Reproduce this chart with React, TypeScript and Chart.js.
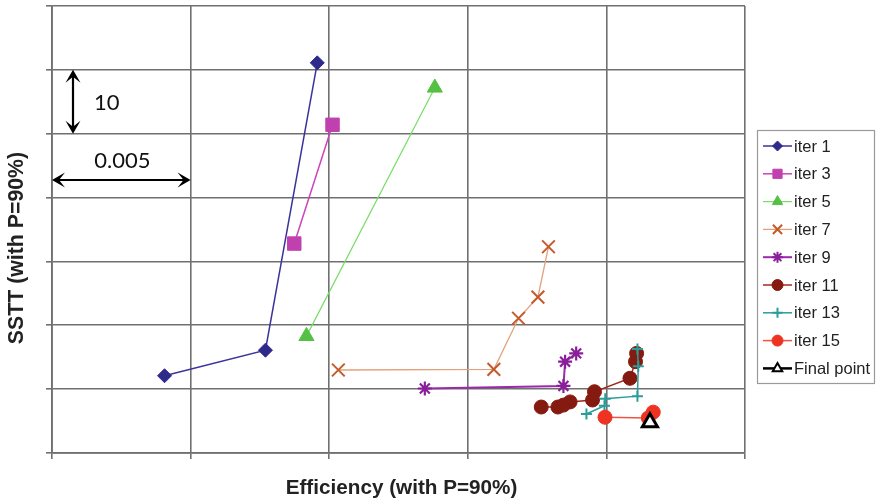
import React, { useEffect, useRef } from "react";
import { Chart, registerables } from "chart.js";
import { drawPoint } from "chart.js/helpers";

Chart.register(...registerables);

const xTitle = "Efficiency (with P=90%)";
const yTitle = "SSTT (with P=90%)";

const iter1X = [0.00406, 0.0077, 0.00957];
const iter1Y = [12.1, 16.1, 61.1];
const iter3X = [0.00874, 0.01012];
const iter3Y = [32.8, 51.4];
const iter5X = [0.00918, 0.01381];
const iter5Y = [18.3, 57.2];
const iter7X = [0.01033, 0.01594, 0.01683, 0.01753, 0.01791];
const iter7Y = [13.0, 13.1, 21.1, 24.4, 32.3];
const iter9X = [0.01345, 0.01845, 0.01851, 0.01891];
const iter9Y = [10.1, 10.5, 14.3, 15.6];
const iter11X = [0.01765, 0.01825, 0.01845, 0.01869, 0.0195, 0.01957, 0.02085, 0.02105, 0.02109];
const iter11Y = [7.2, 7.2, 7.5, 8.0, 8.3, 9.6, 11.7, 14.3, 15.6];
const iter13X = [0.01928, 0.01993, 0.01996, 0.02112, 0.02115, 0.02112];
const iter13Y = [6.1, 7.4, 8.5, 8.9, 13.6, 16.3];
const iter15X = [0.01995, 0.02151, 0.02169];
const iter15Y = [5.6, 5.5, 6.4];
const finalX = [0.02157];
const finalY = [4.8];

const seriesNames = ["iter 1", "iter 3", "iter 5", "iter 7", "iter 9", "iter 11", "iter 13", "iter 15", "Final point"];

const xMin = 0, xMax = 0.025, xStep = 0.005;
const yMin = 0, yMax = 70, yStep = 10;
const scaleXLabel = "0.005";
const scaleYLabel = "10";

const pts = (xs: number[], ys: number[]) => xs.map((x, i) => ({ x, y: ys[i] }));

type Style = {
  line: string; marker: string; fill: string; pointStyle: string; radius: number; lw: number; mbw: number; legR: number;
};
const styles: Style[] = [
  { line: "#3a3399", marker: "#2e2a8c", fill: "#2e2a8c", pointStyle: "rectRot", radius: 7, lw: 1.5, mbw: 1, legR: 5 },
  { line: "#cc44bb", marker: "#c040b0", fill: "#c040b0", pointStyle: "rect", radius: 9.5, lw: 1.5, mbw: 1, legR: 6.5 },
  { line: "#77dd66", marker: "#55c044", fill: "#55c044", pointStyle: "triangle", radius: 8.7, lw: 1.2, mbw: 1, legR: 6 },
  { line: "#e2a17c", marker: "#c45a2a", fill: "#c45a2a", pointStyle: "crossRot", radius: 9, lw: 1.3, mbw: 2, legR: 6.5 },
  { line: "#9a2aaa", marker: "#8a1f9a", fill: "#8a1f9a", pointStyle: "star", radius: 7, lw: 2, mbw: 2.2, legR: 5.5 },
  { line: "#a02a1e", marker: "#851a10", fill: "#851a10", pointStyle: "circle", radius: 7, lw: 1.5, mbw: 1, legR: 5.5 },
  { line: "#2a9d9a", marker: "#2a9d9a", fill: "#2a9d9a", pointStyle: "cross", radius: 5.5, lw: 1.5, mbw: 2, legR: 5 },
  { line: "#ee5544", marker: "#ee3322", fill: "#ee3322", pointStyle: "circle", radius: 7, lw: 1.5, mbw: 1, legR: 5.5 },
  { line: "#000000", marker: "#000000", fill: "#ffffff", pointStyle: "triangle", radius: 8.7, lw: 2.5, mbw: 3, legR: 5.5 },
];

const seriesData = [
  pts(iter1X, iter1Y), pts(iter3X, iter3Y), pts(iter5X, iter5Y), pts(iter7X, iter7Y), pts(iter9X, iter9Y),
  pts(iter11X, iter11Y), pts(iter13X, iter13Y), pts(iter15X, iter15Y), pts(finalX, finalY),
];

function arrowHead(ctx: CanvasRenderingContext2D, x: number, y: number, dx: number, dy: number) {
  const len = 13, half = 7.5, notch = 7;
  const px = -dy, py = dx;
  ctx.beginPath();
  ctx.moveTo(x, y);
  ctx.lineTo(x - dx * len + px * half, y - dy * len + py * half);
  ctx.lineTo(x - dx * notch, y - dy * notch);
  ctx.lineTo(x - dx * len - px * half, y - dy * len - py * half);
  ctx.closePath();
  ctx.fill();
}

const overlay = {
  id: "overlay",
  afterDraw(chart: any) {
    const ctx: CanvasRenderingContext2D = chart.ctx;
    const xs = chart.scales.x, ys = chart.scales.y;
    ctx.save();
    ctx.fillStyle = "#222";
    ctx.font = 'bold 20.7px "Liberation Sans", Arial, sans-serif';
    ctx.textAlign = "center";
    ctx.textBaseline = "middle";
    ctx.fillText(xTitle, (xs.left + xs.right) / 2 + 3, 488);
    ctx.save();
    ctx.translate(17, 248);
    ctx.rotate(-Math.PI / 2);
    ctx.font = 'bold 21.3px "Liberation Sans", Arial, sans-serif';
    ctx.fillText(yTitle, 0, 0);
    ctx.restore();

    ctx.strokeStyle = "#000";
    ctx.fillStyle = "#000";
    ctx.lineWidth = 2.2;
    const ax = xs.left + 21;
    const yTop = ys.getPixelForValue(60), yBot = ys.getPixelForValue(50);
    ctx.beginPath(); ctx.moveTo(ax, yTop + 5); ctx.lineTo(ax, yBot - 5); ctx.stroke();
    arrowHead(ctx, ax, yTop, 0, -1);
    arrowHead(ctx, ax, yBot, 0, 1);
    const hy = 180;
    const xl = xs.getPixelForValue(0), xr = xs.getPixelForValue(0.005);
    ctx.beginPath(); ctx.moveTo(xl + 5, hy); ctx.lineTo(xr - 5, hy); ctx.stroke();
    arrowHead(ctx, xl, hy, -1, 0);
    arrowHead(ctx, xr, hy, 1, 0);
    ctx.font = '22px Lato, "Open Sans", sans-serif';
    ctx.fillStyle = "#111";
    ctx.textAlign = "left";
    ctx.fillText(scaleYLabel, ax + 21, (yTop + yBot) / 2 + 1);
    ctx.textAlign = "center";
    ctx.fillText(scaleXLabel, (xl + xr) / 2 + 1, 161);

    const bx = 757, by = 130, bw = 117, bh = 253;
    ctx.strokeStyle = "#9a9a9a";
    ctx.lineWidth = 1.2;
    ctx.strokeRect(bx + 0.5, by + 0.5, bw, bh);
    ctx.font = '16.5px "Liberation Sans", Arial, sans-serif';
    ctx.textAlign = "left";
    ctx.textBaseline = "middle";
    seriesNames.forEach((name, i) => {
      const st = styles[i];
      const cy = 146 + i * 27.8;
      ctx.strokeStyle = st.line;
      ctx.lineWidth = st.lw;
      ctx.beginPath(); ctx.moveTo(763, cy); ctx.lineTo(792, cy); ctx.stroke();
      ctx.fillStyle = st.fill;
      ctx.strokeStyle = st.marker;
      ctx.lineWidth = Math.min(st.mbw, 2);
      drawPoint(ctx, { pointStyle: st.pointStyle as any, radius: st.legR, rotation: 0, borderWidth: st.mbw }, 777.5, cy);
      ctx.fillStyle = "#222";
      ctx.fillText(name, 794, cy + 1);
    });
    ctx.restore();
  },
};

export default function App() {
  const ref = useRef<HTMLCanvasElement>(null);
  useEffect(() => {
    document.body.style.margin = "0";
    const canvas = ref.current!;
    const chart = new Chart(canvas, {
      type: "scatter",
      data: {
        datasets: seriesData.map((d, i) => ({
          label: seriesNames[i],
          data: d,
          order: 20 - i,
          showLine: true,
          clip: false,
          borderColor: styles[i].line,
          borderWidth: styles[i].lw,
          pointStyle: styles[i].pointStyle as any,
          pointRadius: styles[i].radius,
          pointBackgroundColor: styles[i].fill,
          pointBorderColor: styles[i].marker,
          pointBorderWidth: styles[i].mbw,
          tension: 0,
        })),
      },
      options: {
        animation: false,
        responsive: false,
        events: [],
        layout: { autoPadding: false, padding: { top: 6, right: 131, left: 0, bottom: 0 } },
        plugins: { legend: { display: false }, tooltip: { enabled: false } },
        scales: {
          x: {
            type: "linear",
            min: xMin,
            max: xMax,
            ticks: { display: false, stepSize: xStep },
            grid: { color: "#707070", lineWidth: 1.6, drawTicks: true, tickLength: 6 },
            border: { color: "#707070", width: 1.8 },
            afterFit: (s: any) => { s.height = 47; },
          },
          y: {
            type: "linear",
            min: yMin,
            max: yMax,
            ticks: { display: false, stepSize: yStep },
            grid: { color: "#707070", lineWidth: 1.6, drawTicks: true, tickLength: 6 },
            border: { color: "#707070", width: 1.8 },
            afterFit: (s: any) => { s.width = 52; },
          },
        },
      },
      plugins: [overlay],
    });
    return () => chart.destroy();
  }, []);
  return (
    <div style={{ width: 876, height: 500 }}>
      <canvas ref={ref} width={876} height={500} />
    </div>
  );
}
